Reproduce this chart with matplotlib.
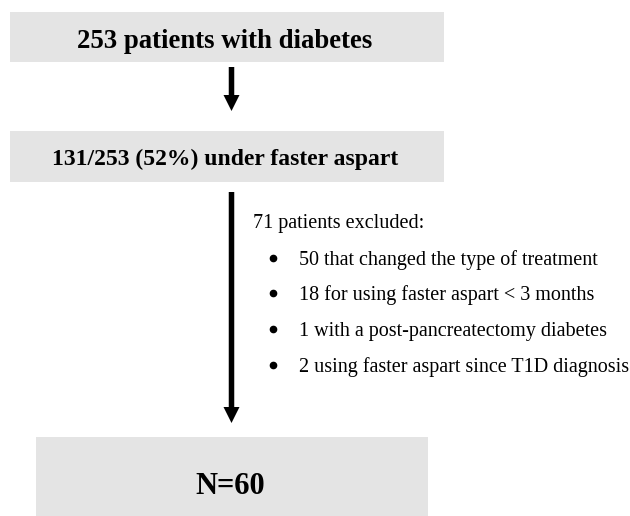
#!/usr/bin/env python3

import matplotlib
matplotlib.use('Agg')
import matplotlib.pyplot as plt
from matplotlib.patches import Rectangle

plt.rcParams['font.family'] = ['Liberation Serif', 'DejaVu Serif']

# flowchart content
box_labels = ['253 patients with diabetes',
              '131/253 (52%) under faster aspart',
              'N=60']
excluded_title = '71 patients excluded:'
excluded_items = ['50 that changed the type of treatment',
                  '18 for using faster aspart < 3 months',
                  '1 with a post-pancreatectomy diabetes',
                  '2 using faster aspart since T1D diagnosis']

# layout in pixels (x0, y0, x1, y1), y downward
box_rects = [(10, 12, 444, 62), (10, 131, 444, 182), (36, 437, 428, 520)]
box_text_y = [38, 157, 483]
box_fontsize = [19.3, 17, 22]
GREY = '#e4e4e4'

fig = plt.figure(figsize=(6.3, 5.16), dpi=100)
ax = fig.add_axes([0, 0, 1, 1])
ax.set_xlim(0, 630)
ax.set_ylim(516, 0)
ax.axis('off')

for (x0, y0, x1, y1), label, yc, fs in zip(box_rects, box_labels,
                                           box_text_y, box_fontsize):
    ax.add_patch(Rectangle((x0, y0), x1 - x0, y1 - y0, facecolor=GREY,
                           edgecolor='none'))
    ax.text((x0 + x1) / 2 - 2, yc, label, ha='center', va='center_baseline',
            fontsize=fs, fontweight='bold')

# arrows
arrow_x = 231.5
for y_start, y_end in [(67, 111), (192, 423)]:
    ax.arrow(arrow_x, y_start, 0, y_end - y_start, width=5.5, head_width=16,
             head_length=16, length_includes_head=True, color='black',
             linewidth=0)

# exclusion list
ax.text(253, 221, excluded_title, ha='left', va='center_baseline', fontsize=14.5)
bullet_y = [258, 293, 329, 365]
for y, item in zip(bullet_y, excluded_items):
    ax.plot(273, y, 'o', color='black', markersize=4.5)
    ax.text(299, y, item, ha='left', va='center_baseline', fontsize=14.5)

fig.savefig('out.png', dpi=100)
